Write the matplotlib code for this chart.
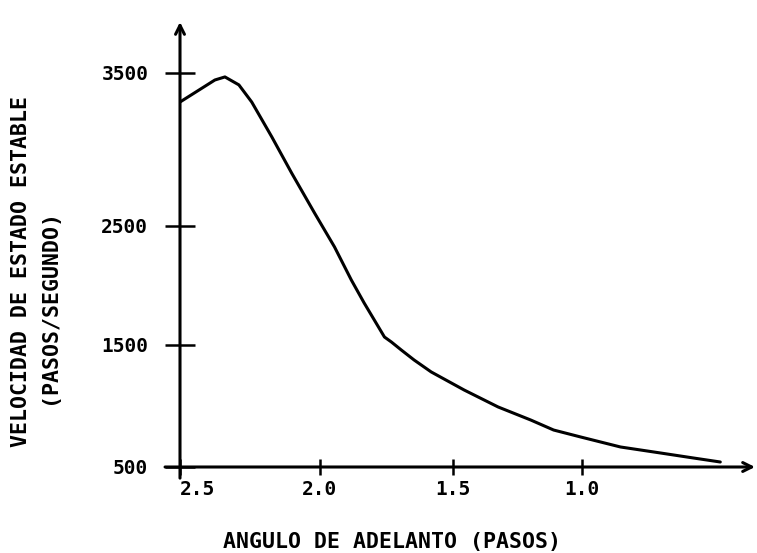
#!/usr/bin/env python3
"""
Velocidad de estado estable vs angulo de adelanto (plotter style chart).
"""

import matplotlib

matplotlib.use("Agg")
import matplotlib.pyplot as plt
import numpy as np

# curve (angle in steps, speed in steps/second)
angle_steps = [2.50, 2.375, 2.339, 2.289, 2.243, 2.171, 2.100, 2.018, 1.944, 1.881,
               1.833, 1.795, 1.757, 1.731, 1.694, 1.646, 1.582, 1.457, 1.325, 1.198,
               1.109, 1.004, 0.849, 0.694, 0.566, 0.461]
speed_steps_s = [3310, 3454, 3474, 3422, 3310, 3082, 2846, 2585, 2324, 2046,
                 1853, 1710, 1567, 1525, 1459, 1377, 1279, 1131, 992, 885,
                 803, 746, 664, 615, 574, 541]

x_ticks = [2.5, 2.0, 1.5, 1.0]
x_tick_labels = ["2.5", "2.0", "1.5", "1.0"]
y_ticks = [500, 1500, 2500, 3500]
y_tick_labels = ["500", "1500", "2500", "3500"]

# the old plotter did not space its ticks evenly: calibrate a piecewise scale
X_CAL_VALUES = [1.0, 1.5, 2.0, 2.5]
X_CAL_POS = [-581, -452, -318, -178]
Y_CAL_VALUES = [500, 1500, 2500, 3500]
Y_CAL_POS = [0, 122, 241, 394]

FONT = "DejaVu Sans Mono"
W, H = 757, 553


def piecewise(src, dst):
    src = np.asarray(src, float)
    dst = np.asarray(dst, float)
    lo = (dst[1] - dst[0]) / (src[1] - src[0])
    hi = (dst[-1] - dst[-2]) / (src[-1] - src[-2])

    def f(v):
        v = np.asarray(v, float)
        out = np.interp(v, src, dst)
        out = np.where(v < src[0], dst[0] + (v - src[0]) * lo, out)
        out = np.where(v > src[-1], dst[-1] + (v - src[-1]) * hi, out)
        return out

    return f


fig = plt.figure(figsize=(W / 100, H / 100), dpi=100)
ax = fig.add_axes([180 / W, 1 - 467 / H, (755 - 180) / W, (467 - 22) / H])

ax.set_xscale("function", functions=(piecewise(X_CAL_VALUES, X_CAL_POS),
                                     piecewise(X_CAL_POS, X_CAL_VALUES)))
ax.set_yscale("function", functions=(piecewise(Y_CAL_VALUES, Y_CAL_POS),
                                     piecewise(Y_CAL_POS, Y_CAL_VALUES)))

ax.plot(angle_steps, speed_steps_s, color="black", lw=2.2,
        solid_capstyle="round", solid_joinstyle="round")

ax.set_xlim(2.5, 0.326)
ax.set_ylim(500, 3833)

for side in ["top", "right", "bottom", "left"]:
    ax.spines[side].set_visible(False)

arrow = dict(arrowstyle="->", lw=2.2, color="black", mutation_scale=16, shrinkA=0, shrinkB=0)
ax.annotate("", xy=(1, 0), xytext=(-0.026, 0), xycoords="axes fraction",
            arrowprops=arrow, annotation_clip=False)
ax.annotate("", xy=(0, 1), xytext=(0, -0.025), xycoords="axes fraction",
            arrowprops=arrow, annotation_clip=False)

ax.set_xticks(x_ticks)
ax.set_xticklabels(x_tick_labels, fontfamily=FONT, fontweight="bold", fontsize=14)
ax.set_yticks(y_ticks)
ax.set_yticklabels(y_tick_labels, fontfamily=FONT, fontweight="bold", fontsize=14)
ax.minorticks_off()
ax.tick_params(axis="x", direction="inout", length=11.5, width=1.8, pad=3.6)
ax.tick_params(axis="y", direction="inout", length=21.6, width=1.8, pad=12)
ax.get_xticklabels()[0].set_horizontalalignment("left")

label_kw = dict(fontfamily=FONT, fontweight="bold", fontsize=15.5, ha="center", va="center")
fig.text(21 / W, 1 - 272 / H, "VELOCIDAD DE ESTADO ESTABLE", rotation=90, **label_kw)
fig.text(49 / W, 1 - 307 / H, "(PASOS/SEGUNDO)", rotation=90, **label_kw)
fig.text(392 / W, 1 - 542 / H, "ANGULO DE ADELANTO (PASOS)", **label_kw)

fig.savefig("out.png", dpi=100)
